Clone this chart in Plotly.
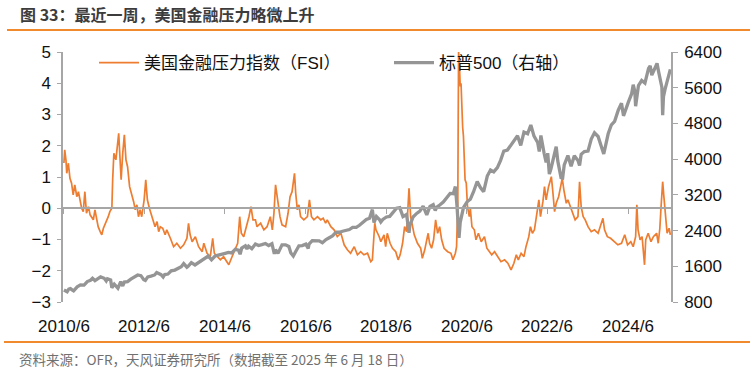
import pandas as pd
import plotly.graph_objects as go

# ---------------- data ----------------
title_text = "图 33：最近一周，美国金融压力略微上升"
source_text = "资料来源：OFR，天风证券研究所（数据截至 2025 年 6 月 18 日）"
fsi_name = "美国金融压力指数（FSI）"
spx_name = "标普500（右轴）"

# OFR Financial Stress Index, decimal-year dates and values
fsi_t = [
    2010.42, 2010.44, 2010.47, 2010.49, 2010.53, 2010.57, 2010.61, 2010.65, 2010.69, 2010.74,
    2010.78, 2010.82, 2010.86, 2010.90, 2010.94, 2010.98, 2011.03, 2011.07, 2011.15, 2011.19,
    2011.23, 2011.27, 2011.32, 2011.36, 2011.40, 2011.44, 2011.48, 2011.52, 2011.56, 2011.61,
    2011.63, 2011.66, 2011.71, 2011.76, 2011.78, 2011.81, 2011.84, 2011.88, 2011.92, 2011.96,
    2012.00, 2012.05, 2012.10, 2012.15, 2012.19, 2012.23, 2012.27, 2012.31, 2012.35, 2012.41,
    2012.45, 2012.49, 2012.54, 2012.58, 2012.64, 2012.68, 2012.73, 2012.77, 2012.81, 2012.87,
    2012.93, 2012.97, 2013.06, 2013.14, 2013.22, 2013.31, 2013.39, 2013.47, 2013.51, 2013.55,
    2013.60, 2013.68, 2013.76, 2013.85, 2013.89, 2013.97, 2014.05, 2014.11, 2014.15, 2014.22,
    2014.30, 2014.38, 2014.47, 2014.51, 2014.59, 2014.67, 2014.73, 2014.78, 2014.82, 2014.88,
    2014.95, 2015.01, 2015.06, 2015.11, 2015.17, 2015.21, 2015.30, 2015.38, 2015.46, 2015.54,
    2015.59, 2015.63, 2015.67, 2015.71, 2015.78, 2015.83, 2015.92, 2015.98, 2016.03, 2016.08,
    2016.14, 2016.17, 2016.21, 2016.25, 2016.29, 2016.37, 2016.46, 2016.51, 2016.56, 2016.62,
    2016.71, 2016.79, 2016.85, 2016.91, 2016.95, 2017.04, 2017.12, 2017.20, 2017.29, 2017.37,
    2017.45, 2017.53, 2017.62, 2017.70, 2017.78, 2017.86, 2017.95, 2018.03, 2018.07, 2018.13,
    2018.16, 2018.24, 2018.28, 2018.36, 2018.40, 2018.44, 2018.51, 2018.57, 2018.65, 2018.71,
    2018.76, 2018.82, 2018.87, 2018.92, 2018.98, 2019.02, 2019.05, 2019.11, 2019.19, 2019.27,
    2019.31, 2019.37, 2019.42, 2019.455, 2019.49, 2019.54, 2019.59, 2019.64, 2019.69, 2019.74,
    2019.79, 2019.85, 2019.94, 2020.02, 2020.07, 2020.13, 2020.16, 2020.19, 2020.20, 2020.21,
    2020.23, 2020.25, 2020.27, 2020.29, 2020.31, 2020.33, 2020.35, 2020.37, 2020.40, 2020.43,
    2020.475, 2020.50, 2020.54, 2020.60, 2020.64, 2020.70, 2020.77, 2020.85, 2020.91, 2020.97,
    2021.03, 2021.10, 2021.18, 2021.26, 2021.35, 2021.43, 2021.51, 2021.58, 2021.64, 2021.69,
    2021.76, 2021.83, 2021.88, 2021.95, 2021.99, 2022.04, 2022.09, 2022.15, 2022.20, 2022.24,
    2022.30, 2022.34, 2022.38, 2022.44, 2022.51, 2022.55, 2022.59, 2022.63, 2022.69, 2022.74,
    2022.78, 2022.82, 2022.88, 2022.92, 2022.98, 2023.05, 2023.10, 2023.17, 2023.21, 2023.25,
    2023.30, 2023.35, 2023.42, 2023.50, 2023.58, 2023.67, 2023.73, 2023.79, 2023.83, 2023.90,
    2023.98, 2024.08, 2024.16, 2024.25, 2024.33, 2024.40, 2024.48, 2024.54, 2024.60, 2024.63,
    2024.66, 2024.71, 2024.76, 2024.82, 2024.85, 2024.91, 2024.98, 2025.04, 2025.12, 2025.16,
    2025.20, 2025.23, 2025.27, 2025.30, 2025.34, 2025.38, 2025.43, 2025.46,
]
fsi_v = [
    1.45, 1.87, 1.55, 1.12, 1.44, 0.96, 0.80, 0.43, 0.75, 0.37,
    0.53, 0.21, 0.00, -0.11, 0.53, -0.16, 0.05, -0.21, -0.37, -0.05,
    -0.37, -0.59, -0.75, -0.85, -0.64, -0.53, -0.43, -0.27, -0.11, 0.00,
    0.91, 1.76, 1.55, 2.08, 2.40, 1.65, 0.91, 1.76, 2.35, 1.55,
    1.33, 0.69, 0.48, 0.21, -0.05, 0.11, -0.27, -0.05, -0.27, 0.27,
    0.91, 0.27, 0.00, -0.16, -0.37, -0.59, -0.43, -0.75, -0.59, -0.64,
    -0.85, -0.69, -0.96, -1.23, -1.12, -1.28, -1.17, -0.96, -0.48, -0.85,
    -1.07, -0.91, -1.23, -1.39, -1.12, -1.44, -1.55, -0.96, -1.44, -1.55,
    -1.65, -1.55, -1.76, -1.81, -1.55, -1.33, -1.12, -0.27, -0.80, -0.91,
    -0.59, -0.27, 0.05, -0.37, -0.37, -0.59, -0.48, -0.69, -0.59, -0.27,
    -0.69, -0.16, 0.75, 0.32, -0.27, -0.53, -0.59, -0.16, 0.37, 0.53,
    1.12, 0.48, -0.05, 0.11, -0.27, -0.37, -0.27, 0.27, -0.27, -0.37,
    -0.27, -0.37, -0.32, -0.48, -0.37, -0.59, -0.69, -0.91, -0.80, -1.17,
    -1.33, -1.44, -1.23, -1.49, -1.39, -1.49, -1.44, -1.71, -1.65, -0.48,
    -0.69, -0.91, -1.07, -0.85, -1.23, -0.80, -1.12, -1.28, -1.39, -1.65,
    -1.49, -1.12, -0.59, -0.75, 0.64, -0.27, -0.48, -0.85, -1.12, -1.28,
    -1.60, -1.33, -1.01, -0.80, -1.12, -1.28, -1.01, -0.37, -0.80, -0.59,
    -1.01, -1.28, -1.39, -1.44, -1.65, -1.44, -1.23, 0.16, 2.83, 5.00,
    4.60, 3.90, 4.00, 3.00, 2.60, 2.30, 1.50, 0.91, 0.80, 0.05,
    -0.27, 0.00, -0.59, -0.69, -1.01, -0.80, -1.07, -0.91, -1.28, -1.39,
    -1.49, -1.39, -1.55, -1.71, -1.65, -1.76, -1.97, -1.76, -1.49, -1.65,
    -1.44, -1.55, -1.23, -0.91, -0.59, -0.80, -0.69, -0.16, 0.27, -0.27,
    0.21, 0.69, 0.27, 0.69, 1.01, 0.48, -0.11, 0.16, 0.37, 0.69,
    0.96, 0.59, 0.16, 0.27, 0.05, -0.16, -0.37, -0.27, 0.85, 0.05,
    -0.27, -0.37, -0.59, -0.75, -0.69, -0.80, -0.59, -0.32, -0.69, -0.91,
    -0.96, -1.07, -1.17, -1.12, -0.85, -1.17, -1.07, -1.23, -0.91, 0.11,
    -0.69, -1.01, -0.91, -1.81, -1.01, -0.80, -1.07, -0.91, -0.80, -1.12,
    -0.64, 0.05, 0.85, 0.37, -0.37, -0.80, -0.64, -0.85,
]

# S&P 500 index (right axis), decimal-year dates and values
spx_t = [
    2010.42, 2010.45, 2010.50, 2010.54, 2010.58, 2010.63, 2010.66, 2010.75, 2010.83, 2010.92,
    2011.00, 2011.08, 2011.13, 2011.19, 2011.25, 2011.33, 2011.42, 2011.47, 2011.50, 2011.58,
    2011.61, 2011.67, 2011.73, 2011.76, 2011.83, 2011.88, 2011.92, 2012.00, 2012.08, 2012.17,
    2012.25, 2012.33, 2012.40, 2012.44, 2012.50, 2012.58, 2012.67, 2012.72, 2012.83, 2012.88,
    2012.92, 2013.00, 2013.08, 2013.17, 2013.25, 2013.33, 2013.39, 2013.47, 2013.50, 2013.58,
    2013.67, 2013.75, 2013.83, 2013.92, 2014.00, 2014.08, 2014.17, 2014.25, 2014.33, 2014.42,
    2014.50, 2014.58, 2014.67, 2014.75, 2014.79, 2014.83, 2014.92, 2014.96, 2015.00, 2015.08,
    2015.17, 2015.25, 2015.33, 2015.42, 2015.50, 2015.58, 2015.64, 2015.67, 2015.73, 2015.83,
    2015.92, 2016.00, 2016.05, 2016.11, 2016.17, 2016.25, 2016.33, 2016.42, 2016.48, 2016.50,
    2016.58, 2016.67, 2016.75, 2016.83, 2016.92, 2017.00, 2017.08, 2017.17, 2017.25, 2017.33,
    2017.42, 2017.50, 2017.58, 2017.67, 2017.75, 2017.83, 2017.92, 2018.00, 2018.07, 2018.11,
    2018.17, 2018.25, 2018.28, 2018.33, 2018.42, 2018.50, 2018.58, 2018.67, 2018.75, 2018.83,
    2018.92, 2018.98, 2019.00, 2019.08, 2019.17, 2019.25, 2019.33, 2019.42, 2019.50, 2019.58,
    2019.63, 2019.67, 2019.75, 2019.83, 2019.92, 2020.00, 2020.08, 2020.13, 2020.17, 2020.20,
    2020.22, 2020.25, 2020.33, 2020.42, 2020.50, 2020.58, 2020.67, 2020.75, 2020.83, 2020.92,
    2021.00, 2021.08, 2021.17, 2021.25, 2021.33, 2021.42, 2021.50, 2021.58, 2021.67, 2021.75,
    2021.83, 2021.92, 2022.00, 2022.08, 2022.17, 2022.21, 2022.25, 2022.33, 2022.38, 2022.42,
    2022.46, 2022.50, 2022.58, 2022.63, 2022.67, 2022.75, 2022.79, 2022.83, 2022.92, 2023.00,
    2023.08, 2023.17, 2023.21, 2023.25, 2023.33, 2023.42, 2023.50, 2023.58, 2023.67, 2023.75,
    2023.81, 2023.83, 2023.92, 2024.00, 2024.08, 2024.17, 2024.25, 2024.30, 2024.33, 2024.42,
    2024.50, 2024.54, 2024.58, 2024.60, 2024.67, 2024.75, 2024.83, 2024.92, 2024.96, 2025.00,
    2025.08, 2025.13, 2025.17, 2025.25, 2025.27, 2025.29, 2025.33, 2025.42, 2025.46,
]
spx_v = [
    1070, 1050, 1030, 1090, 1100, 1065, 1050, 1140, 1183, 1180,
    1258, 1286, 1330, 1280, 1326, 1363, 1330, 1270, 1320, 1292,
    1120, 1200, 1140, 1110, 1253, 1160, 1246, 1257, 1312, 1365,
    1405, 1390, 1300, 1285, 1362, 1379, 1406, 1460, 1412, 1360,
    1416, 1426, 1498, 1515, 1560, 1590, 1660, 1580, 1600, 1680,
    1630, 1675, 1740, 1790, 1830, 1745, 1830, 1850, 1860, 1890,
    1910, 1900, 1980, 1960, 1870, 2010, 2060, 1990, 2050, 1995,
    2100, 2065, 2085, 2110, 2065, 2105, 1880, 1970, 1890, 2080,
    2080, 2045, 1900, 1830, 1930, 2060, 2065, 2097, 2000, 2099,
    2173, 2170, 2168, 2126, 2200, 2240, 2280, 2365, 2362, 2385,
    2412, 2423, 2470, 2472, 2519, 2575, 2648, 2674, 2870, 2580,
    2714, 2641, 2590, 2648, 2705, 2718, 2816, 2902, 2914, 2712,
    2760, 2350, 2507, 2704, 2784, 2834, 2946, 2752, 2942, 2980,
    2850, 2926, 2977, 3038, 3141, 3231, 3226, 3386, 2954, 2480,
    2237, 2585, 2912, 3044, 3100, 3271, 3500, 3363, 3270, 3622,
    3756, 3714, 3811, 3973, 4181, 4204, 4298, 4395, 4523, 4308,
    4605, 4567, 4766, 4516, 4374, 4170, 4530, 4132, 3930, 4132,
    3666, 3785, 4130, 4280, 3955, 3586, 3577, 3872, 4080, 3840,
    4077, 3970, 3860, 4109, 4169, 4180, 4450, 4589, 4508, 4288,
    4117, 4194, 4568, 4770, 4846, 5096, 5254, 4970, 5036, 5278,
    5460, 5667, 5522, 5186, 5648, 5762, 5705, 6032, 6090, 5882,
    6041, 6144, 5955, 5612, 4982, 5400, 5569, 5912, 6010,
]

x_tick_dates = ["2010-06-01", "2012-06-01", "2014-06-01", "2016-06-01",
                "2018-06-01", "2020-06-01", "2022-06-01", "2024-06-01"]
x_tick_text = ["2010/6", "2012/6", "2014/6", "2016/6",
               "2018/6", "2020/6", "2022/6", "2024/6"]
y_left_range = [-3, 5]
y_right_range = [800, 6400]


def dec_to_date(t):
    y = int(t)
    start = pd.Timestamp(y, 1, 1)
    end = pd.Timestamp(y + 1, 1, 1)
    return start + (end - start) * (t - y)


fsi_dates = [dec_to_date(t) for t in fsi_t]
spx_dates = [dec_to_date(t) for t in spx_t]

# ---------------- layout geometry ----------------
W, H = 755, 372
ML, MR, MT, MB = 63, 84, 52, 70
PW, PH = W - ML - MR, H - MT - MB


def px(xp):
    return (xp - ML) / PW


def py(yp):
    return (H - MB - yp) / PH


ORANGE = "#ED7D31"
GRAY = "#959595"
AXIS = "#A6A6A6"
LAT = "Liberation Sans, Arial, Noto Sans CJK SC, sans-serif"
CJK = "Noto Sans CJK SC, Liberation Sans, sans-serif"

fig = go.Figure()
fig.add_trace(go.Scatter(
    x=fsi_dates, y=fsi_v, mode="lines", name=fsi_name,
    line=dict(color=ORANGE, width=1.7), yaxis="y", legend="legend",
))
fig.add_trace(go.Scatter(
    x=spx_dates, y=spx_v, mode="lines", name=spx_name,
    line=dict(color=GRAY, width=3.3), yaxis="y2", legend="legend2",
))

zero_pos = (0 - y_left_range[0]) / (y_left_range[1] - y_left_range[0])

annotations = [
    dict(text=title_text, x=px(18), y=py(14), xref="paper", yref="paper",
         xanchor="left", yanchor="middle", showarrow=False,
         font=dict(family=CJK, size=16, color="#3C3C3C", weight="bold")),
    dict(text=source_text, x=px(17), y=py(359), xref="paper", yref="paper",
         xanchor="left", yanchor="middle", showarrow=False,
         font=dict(family=CJK, size=13.5, color="#707070")),
]
for d, t in zip(x_tick_dates, x_tick_text):
    annotations.append(dict(text=t, x=d, y=py(326), xref="x", yref="paper",
                            xanchor="center", yanchor="middle", showarrow=False,
                            font=dict(family=LAT, size=17, color="#111111")))

shapes = [
    dict(type="line", xref="paper", yref="paper", x0=px(7), x1=px(750),
         y0=py(30), y1=py(30), line=dict(color="#F08A2C", width=2)),
    dict(type="line", xref="paper", yref="paper", x0=px(4), x1=px(750),
         y0=py(342), y1=py(342), line=dict(color="#F08A2C", width=2)),
]

legend_common = dict(orientation="h", yanchor="middle", xanchor="left",
                     bgcolor="rgba(0,0,0,0)", itemwidth=40,
                     font=dict(family=LAT, size=17, color="#111111"))

fig.update_layout(
    width=W, height=H,
    margin=dict(l=ML, r=MR, t=MT, b=MB, pad=0),
    paper_bgcolor="white", plot_bgcolor="white",
    showlegend=True,
    legend=dict(x=px(94), y=py(63), **legend_common),
    legend2=dict(x=px(389), y=py(63), **legend_common),
    xaxis=dict(type="date", range=["2010-05-26", "2025-06-24"],
               anchor="free", position=zero_pos,
               showline=True, linecolor=AXIS, linewidth=1.5,
               ticks="outside", ticklen=5, tickcolor=AXIS, tickwidth=1.2,
               tickvals=x_tick_dates, showticklabels=False,
               showgrid=False, zeroline=False),
    yaxis=dict(range=y_left_range, dtick=1, showline=True, linecolor=AXIS, linewidth=1.5,
               ticks="outside", ticklen=4, tickcolor=AXIS, tickwidth=1.2,
               ticklabelstandoff=3,
               showgrid=False, zeroline=False,
               tickfont=dict(family=LAT, size=17, color="#111111")),
    yaxis2=dict(range=y_right_range, dtick=800, overlaying="y", side="right",
                showline=True, linecolor=AXIS, linewidth=1.5,
                ticks="outside", ticklen=5, tickcolor=AXIS, tickwidth=1.2,
                ticklabelstandoff=3,
                showgrid=False, zeroline=False,
                tickfont=dict(family=LAT, size=17, color="#111111")),
    annotations=annotations,
    shapes=shapes,
)

fig.write_html("out.html", config={"displayModeBar": False},
               post_script="document.body.style.margin='0';document.body.style.overflow='hidden';")
